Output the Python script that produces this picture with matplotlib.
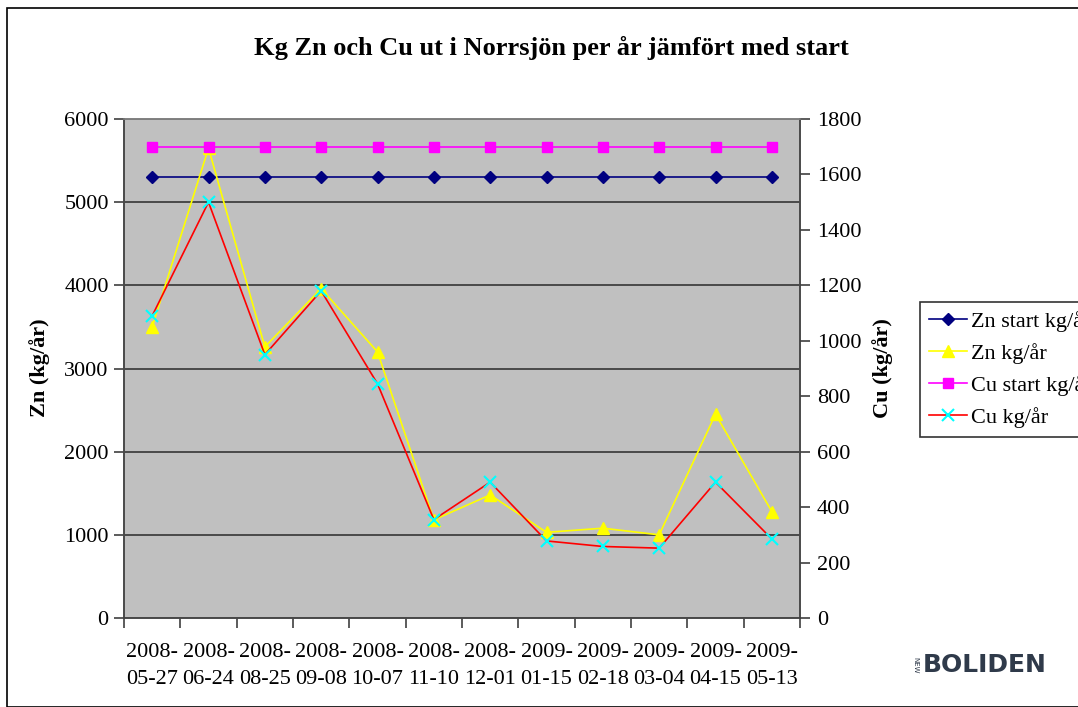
import matplotlib.pyplot as plt
from matplotlib.patches import Rectangle
from matplotlib.ticker import MultipleLocator, FixedLocator

dates = ["2008-\n05-27", "2008-\n06-24", "2008-\n08-25", "2008-\n09-08", "2008-\n10-07", "2008-\n11-10",
         "2008-\n12-01", "2009-\n01-15", "2009-\n02-18", "2009-\n03-04", "2009-\n04-15", "2009-\n05-13"]
zn_start = [5300] * 12
cu_start = [1700] * 12
zn = [3500, 5650, 3260, 3960, 3200, 1180, 1480, 1030, 1080, 1000, 2450, 1280]
cu = [1090, 1500, 950, 1180, 845, 355, 490, 278, 258, 252, 490, 285]

plt.rcParams['font.family'] = ['Liberation Serif', 'DejaVu Serif']
fs = 16

fig = plt.figure(figsize=(10.78, 7.07), dpi=100)
fig.patches.append(Rectangle((7 / 1078, 0), 1.2, (707 - 8) / 707, transform=fig.transFigure,
                             fill=False, edgecolor='black', linewidth=1.2, zorder=0))

ax1 = fig.add_axes([124 / 1078, 89 / 707, 676 / 1078, 499 / 707])
ax1.set_facecolor('#C0C0C0')
ax2 = ax1.twinx()

x = list(range(len(dates)))
l1, = ax1.plot(x, zn_start, color='#000080', marker='D', markersize=6, linewidth=1.2, label='Zn start kg/år')
l2, = ax1.plot(x, zn, color='#FFFF00', marker='^', markersize=8, linewidth=1.2, label='Zn kg/år')
l3, = ax2.plot(x, cu_start, color='#FF00FF', marker='s', markersize=7, linewidth=1.2, label='Cu start kg/år')
l4, = ax2.plot(x, cu, color='#FF0000', marker='x', markeredgecolor='#00FFFF', markersize=8,
               markeredgewidth=1.5, linewidth=1.2, label='Cu kg/år')

ax1.set_xlim(-0.5, 11.5)
ax1.set_ylim(0, 6000)
ax2.set_ylim(0, 1800)
ax1.yaxis.set_major_locator(MultipleLocator(1000))
ax2.yaxis.set_major_locator(MultipleLocator(200))
ax1.grid(axis='y', color='#404040', linewidth=1.3)
ax1.set_axisbelow(True)

ax1.xaxis.set_major_locator(FixedLocator([i - 0.5 for i in range(13)]))
ax1.xaxis.set_minor_locator(FixedLocator(x))
ax1.set_xticklabels([])
ax1.set_xticklabels(dates, minor=True, fontsize=fs, linespacing=1.55)
ax1.tick_params(axis='x', which='major', length=7, width=1.2, color='#404040')
ax1.tick_params(axis='x', which='minor', length=0, pad=18)
ax1.tick_params(axis='y', length=7, width=1.2, color='#404040', labelsize=fs, pad=4)
ax2.tick_params(axis='y', length=7, width=1.2, color='#404040', labelsize=fs, pad=5)

for ax in (ax1, ax2):
    for s in ax.spines.values():
        s.set_color('#808080')
        s.set_linewidth(1.2)
ax2.spines['left'].set_color('#404040')
ax2.spines['right'].set_color('#404040')
ax2.spines['bottom'].set_color('#404040')

fig.text(40 / 1078, (707 - 368) / 707, 'Zn (kg/år)', rotation=90, ha='center', va='center',
         fontsize=16, fontweight='bold')
fig.text(883 / 1078, (707 - 368) / 707, 'Cu (kg/år)', rotation=90, ha='center', va='center',
         fontsize=16, fontweight='bold')
fig.text(551 / 1078, (707 - 48) / 707, 'Kg Zn och Cu ut i Norrsjön per år jämfört med start',
         ha='center', va='center', fontsize=19, fontweight='bold')

leg = fig.legend(handles=[l1, l2, l3, l4], loc='upper left', bbox_to_anchor=(920 / 1078, (707 - 302) / 707),
                 borderaxespad=0, fontsize=fs, frameon=True, fancybox=False, edgecolor='black',
                 handlelength=1.7, handletextpad=0.2, labelspacing=0.5, borderpad=0.4)
leg.get_frame().set_linewidth(1.2)

fig.text(923 / 1078, (707 - 665) / 707, 'BOLIDEN', ha='left', va='center', fontsize=18, fontweight='bold',
         family='DejaVu Sans', color='#2F3A4A')
fig.text(915 / 1078, (707 - 665) / 707, 'NEW', ha='center', va='center', fontsize=5, rotation=270,
         family='DejaVu Sans', color='#2F3A4A')

fig.savefig('out.png', dpi=100)
